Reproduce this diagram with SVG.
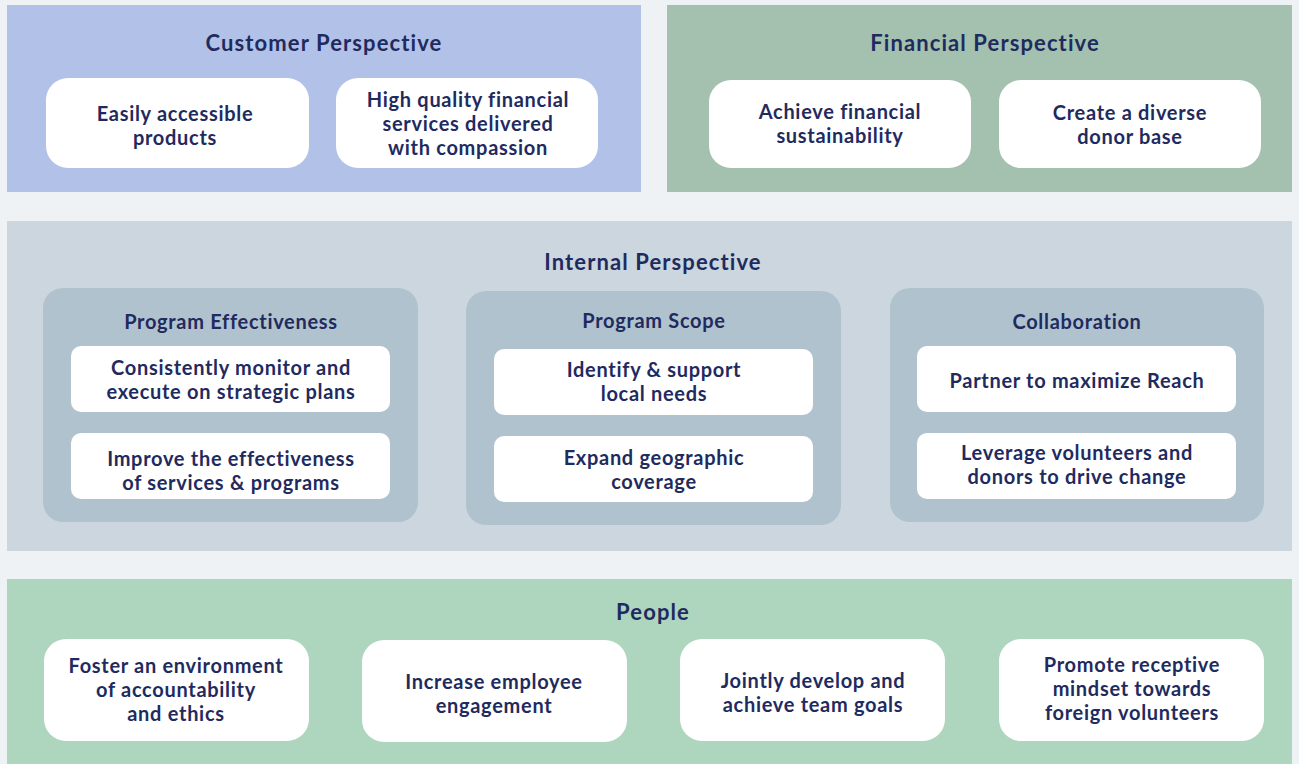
<svg xmlns="http://www.w3.org/2000/svg" width="1299" height="764" viewBox="0 0 1299 764">
<style>
.t{font-family:Lato,"Open Sans","Liberation Sans",sans-serif;fill:#1f2b5e;text-anchor:middle;font-weight:700}
.h{font-size:22px;letter-spacing:1.1px}
.s{font-size:20px;letter-spacing:0.7px}
.b{font-size:20px;letter-spacing:0.7px}
.w{fill:#ffffff}
.sub{fill:#b1c2cf}
</style>
<rect x="0" y="0" width="1299" height="764" fill="#eef2f5"/>
<g id="customer">
<rect x="7" y="5" width="634" height="187" fill="#b2c1e8"/>
<text class="t h" x="324" y="51">Customer Perspective</text>
</g>
<g id="c1"><rect class="w" x="46" y="78" width="263" height="90" rx="22"/>
<text class="t b" x="175" y="121">Easily accessible</text><text class="t b" x="175" y="145">products</text></g>
<g id="c2"><rect class="w" x="336" y="78" width="262" height="90" rx="22"/>
<text class="t b" x="468" y="107">High quality financial</text><text class="t b" x="468" y="131">services delivered</text><text class="t b" x="468" y="155">with compassion</text></g>

<g id="financial">
<rect x="667" y="5" width="625" height="187" fill="#a3c1ae"/>
<text class="t h" x="985" y="51">Financial Perspective</text>
</g>
<g id="f1"><rect class="w" x="709" y="80" width="262" height="88" rx="22"/>
<text class="t b" x="840" y="119">Achieve financial</text><text class="t b" x="840" y="143">sustainability</text></g>
<g id="f2"><rect class="w" x="999" y="80" width="262" height="88" rx="22"/>
<text class="t b" x="1130" y="120">Create a diverse</text><text class="t b" x="1130" y="144">donor base</text></g>

<g id="internal">
<rect x="7" y="221" width="1285" height="330" fill="#cbd6df"/>
<text class="t h" x="653" y="270">Internal Perspective</text>
</g>
<g id="effectiveness"><rect class="sub" x="43" y="288" width="375" height="234" rx="20"/>
<text class="t s" x="231" y="329">Program Effectiveness</text></g>
<g id="e1"><rect class="w" x="71" y="346" width="319" height="66" rx="10"/>
<text class="t b" x="231" y="375">Consistently monitor and</text><text class="t b" x="231" y="399">execute on strategic plans</text></g>
<g id="e2"><rect class="w" x="71" y="433" width="319" height="66" rx="10"/>
<text class="t b" x="231" y="466">Improve the effectiveness</text><text class="t b" x="231" y="490">of services &amp; programs</text></g>

<g id="scope"><rect class="sub" x="466" y="291" width="375" height="234" rx="20"/>
<text class="t s" x="654" y="328">Program Scope</text></g>
<g id="s1"><rect class="w" x="494" y="349" width="319" height="66" rx="10"/>
<text class="t b" x="654" y="377">Identify &amp; support</text><text class="t b" x="654" y="401">local needs</text></g>
<g id="s2"><rect class="w" x="494" y="436" width="319" height="66" rx="10"/>
<text class="t b" x="654" y="465">Expand geographic</text><text class="t b" x="654" y="489">coverage</text></g>

<g id="collaboration"><rect class="sub" x="890" y="288" width="374" height="234" rx="20"/>
<text class="t s" x="1077" y="329">Collaboration</text></g>
<g id="k1"><rect class="w" x="917" y="346" width="319" height="66" rx="10"/>
<text class="t b" x="1077" y="388">Partner to maximize Reach</text></g>
<g id="k2"><rect class="w" x="917" y="433" width="319" height="66" rx="10"/>
<text class="t b" x="1077" y="460">Leverage volunteers and</text><text class="t b" x="1077" y="484">donors to drive change</text></g>

<g id="people">
<rect x="7" y="579" width="1285" height="185" fill="#aed5bd"/>
<text class="t h" x="653" y="620">People</text>
</g>
<g id="p1"><rect class="w" x="44" y="639" width="265" height="102" rx="22"/>
<text class="t b" x="176" y="673">Foster an environment</text><text class="t b" x="176" y="697">of accountability</text><text class="t b" x="176" y="721">and ethics</text></g>
<g id="p2"><rect class="w" x="362" y="640" width="265" height="102" rx="22"/>
<text class="t b" x="494" y="689">Increase employee</text><text class="t b" x="494" y="713">engagement</text></g>
<g id="p3"><rect class="w" x="680" y="639" width="265" height="102" rx="22"/>
<text class="t b" x="813" y="688">Jointly develop and</text><text class="t b" x="813" y="712">achieve team goals</text></g>
<g id="p4"><rect class="w" x="999" y="639" width="265" height="102" rx="22"/>
<text class="t b" x="1132" y="672">Promote receptive</text><text class="t b" x="1132" y="696">mindset towards</text><text class="t b" x="1132" y="720">foreign volunteers</text></g>
<g id="connectors"/>
</svg>
